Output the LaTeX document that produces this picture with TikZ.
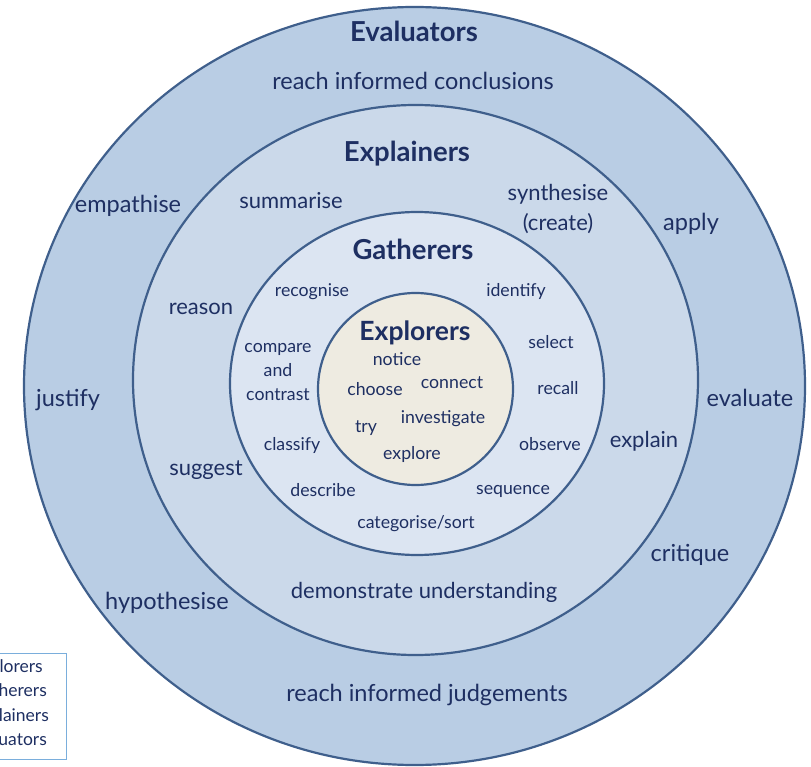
\documentclass[tikz,border=0pt]{standalone}
\usepackage{fontspec}
\setmainfont{Lato}
\definecolor{ringline}{HTML}{3F5F8C}
\definecolor{evalfill}{HTML}{B9CDE4}
\definecolor{explfill}{HTML}{CBD9EA}
\definecolor{gathfill}{HTML}{DCE5F2}
\definecolor{explorfill}{HTML}{EEEBE1}
\definecolor{txt}{HTML}{1E2F62}
\definecolor{legline}{HTML}{7AAEDC}
\tikzset{
  ring/.style={draw=ringline, line width=2.2pt},
  word/.style={text=txt, inner sep=0pt, text height=0.7em, text depth=0.2em},
  outerw/.style={word, font=\fontsize{23.5}{26}\selectfont, yshift=-6pt},
  midw/.style={word, font=\fontsize{22}{26}\selectfont, yshift=-5pt},
  innerw/.style={word, font=\fontsize{17.7}{24}\selectfont, yshift=-4pt},
  titlew/.style={word, font=\fontsize{27.5}{30}\selectfont\bfseries, yshift=-7pt},
  legw/.style={word, font=\fontsize{17.5}{20}\selectfont, anchor=east, yshift=-2pt}
}
\begin{document}
\begin{tikzpicture}[x=1pt,y=-1pt]
\useasboundingbox (0,0) rectangle (811,767);
\clip (0,0) rectangle (811,767);
\fill[white] (0,0) rectangle (811,767);
% rings
\filldraw[ring, fill=evalfill] (414.5,386) ellipse [x radius=390.5, y radius=379];
\filldraw[ring, fill=explfill] (415.5,380) ellipse [x radius=282.5, y radius=275];
\filldraw[ring, fill=gathfill] (417,383.5) ellipse [x radius=187, y radius=171.5];
\filldraw[ring, fill=explorfill] (415.5,389) ellipse [x radius=97.5, y radius=96];
% Evaluators ring
\node[titlew] (evaluators) at (414,32) {Evaluators};
\node[outerw] (conclusions) at (413,81) {reach informed conclusions};
\node[outerw] (empathise) at (128,204) {empathise};
\node[outerw] (apply) at (691,222) {apply};
\node[outerw] (justify) at (68,398) {justify};
\node[outerw] (evaluate) at (750,398) {evaluate};
\node[outerw] (critique) at (690,553) {critique};
\node[outerw] (hypothesise) at (167,601) {hypothesise};
\node[outerw] (judgements) at (427,693) {reach informed judgements};
% Explainers ring
\node[titlew] (explainers) at (407,152) {Explainers};
\node[midw] (summarise) at (291,201) {summarise};
\node[midw, align=center, text height=, text depth=, font=\fontsize{22}{30}\selectfont, yshift=3pt] (synthesise) at (558,207) {synthesise\\(create)};
\node[midw] (reason) at (201,307) {reason};
\node[midw] (suggest) at (206,468) {suggest};
\node[midw] (explain) at (644,440) {explain};
\node[midw] (understanding) at (424,591) {demonstrate understanding};
% Gatherers ring
\node[titlew] (gatherers) at (413,250) {Gatherers};
\node[innerw] (recognise) at (312,290) {recognise};
\node[innerw] (identify) at (516,290) {identify};
\node[innerw, align=center, text height=, text depth=, font=\fontsize{17.7}{24}\selectfont, yshift=3pt] (compare) at (278,371) {compare\\and\\contrast};
\node[innerw] (select) at (551,342) {select};
\node[innerw] (recall) at (558,388) {recall};
\node[innerw] (classify) at (292,444) {classify};
\node[innerw] (observe) at (550,444) {observe};
\node[innerw] (describe) at (323,490) {describe};
\node[innerw] (sequence) at (513,488) {sequence};
\node[innerw] (categorise) at (416,522) {categorise/sort};
% Explorers circle
\node[titlew, font=\fontsize{26.5}{30}\selectfont\bfseries] (explorers) at (415,331) {Explorers};
\node[innerw] (notice) at (397,359) {notice};
\node[innerw] (connect) at (452,382) {connect};
\node[innerw] (choose) at (375,389) {choose};
\node[innerw] (investigate) at (443,417) {investigate};
\node[innerw] (try) at (366,426) {try};
\node[innerw] (explore) at (412,453) {explore};
% legend (cut off at the left edge)
\draw[legline, line width=1pt, fill=white] (-80,653) rectangle (66,759);
\node[legw] (legexplorers) at (43,668) {Explorers};
\node[legw] (leggatherers) at (47,692) {Gatherers};
\node[legw] (legexplainers) at (49,717) {Explainers};
\node[legw] (legevaluators) at (47,741) {Evaluators};
\end{tikzpicture}
\end{document}
